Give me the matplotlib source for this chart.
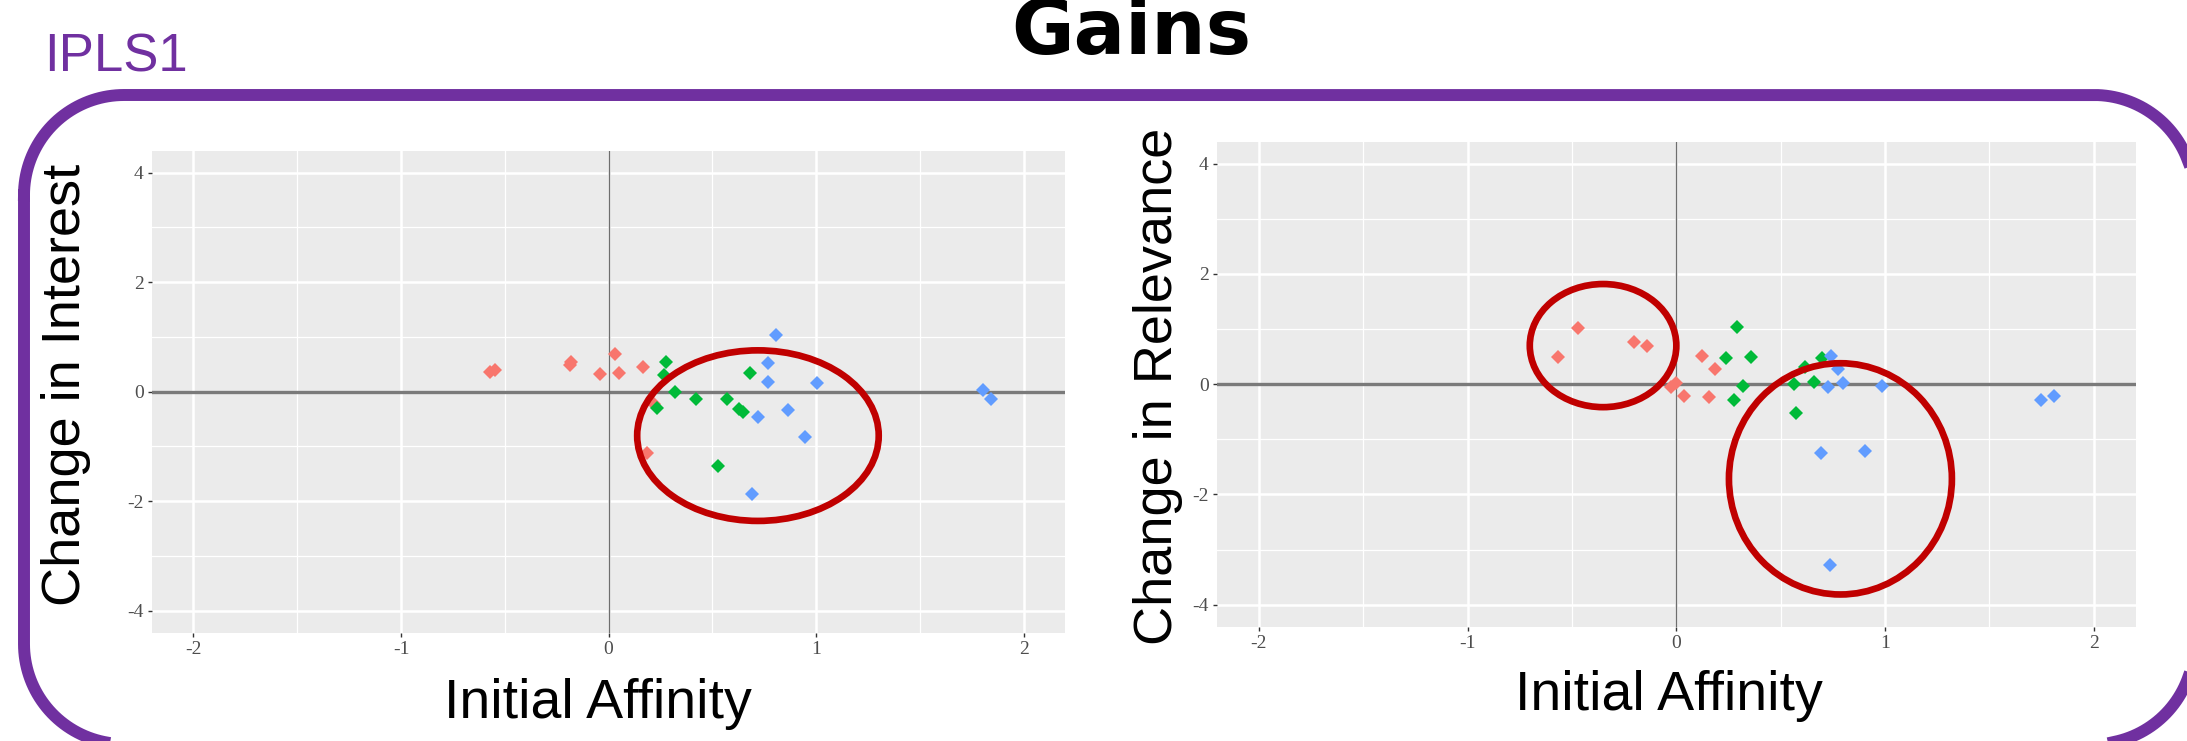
import matplotlib
matplotlib.use("Agg")
import numpy as np
import matplotlib.pyplot as plt
from matplotlib.patches import Ellipse

# ---------------- data ----------------
# Left panel: Initial Affinity vs Change in Interest
int_red_x = [-0.573, -0.549, -0.186, -0.180, -0.041, 0.030, 0.050, 0.165, 0.218, 0.183]
int_red_y = [0.365, 0.395, 0.487, 0.535, 0.316, 0.687, 0.347, 0.450, -0.231, -1.125]
int_green_x = [0.275, 0.269, 0.322, 0.422, 0.233, 0.570, 0.629, 0.647, 0.682, 0.528]
int_green_y = [0.535, 0.304, 0.000, -0.128, -0.292, -0.128, -0.316, -0.365, 0.335, -1.350]
int_blue_x = [0.806, 0.769, 0.769, 1.003, 0.867, 0.718, 0.947, 0.691, 1.804, 1.845]
int_blue_y = [1.040, 0.530, 0.177, 0.158, -0.334, -0.456, -0.821, -1.867, 0.030, -0.140]

# Right panel: Initial Affinity vs Change in Relevance
rel_red_x = [-0.566, -0.472, -0.204, -0.139, 0.000, -0.026, 0.036, 0.123, 0.184, 0.155]
rel_red_y = [0.489, 1.026, 0.760, 0.694, 0.030, -0.054, -0.217, 0.519, 0.278, -0.241]
rel_green_x = [0.291, 0.236, 0.359, 0.320, 0.275, 0.566, 0.573, 0.618, 0.660, 0.696]
rel_green_y = [1.045, 0.477, 0.489, -0.036, -0.290, 0.006, -0.525, 0.320, 0.036, 0.477]
rel_blue_x = [0.741, 0.773, 0.728, 0.799, 0.984, 0.693, 0.903, 0.738, 1.748, 1.809]
rel_blue_y = [0.513, 0.272, -0.054, 0.024, -0.030, -1.250, -1.208, -3.273, -0.284, -0.217]

# highlight ellipses (center x, center y, width, height) in data units
int_ellipses = [(0.720, -0.803, 1.164, 3.114)]
rel_ellipses = [(-0.351, 0.700, 0.702, 2.234), (0.786, -1.718, 1.068, 4.196)]

x_ticks = [-2, -1, 0, 1, 2]
y_ticks = [-4, -2, 0, 2, 4]
x_minor = [-1.5, -0.5, 0.5, 1.5]
y_minor = [-3, -1, 1, 3]

title = "Gains"
corner_label = "IPLS1"
x_label = "Initial Affinity"
y_label_left = "Change in Interest"
y_label_right = "Change in Relevance"

group_colors = ["#F8766D", "#00BA38", "#619CFF"]

# ---------------- figure ----------------
W, H = 2187, 741
fig = plt.figure(figsize=(W / 100, H / 100), dpi=100)

bg = fig.add_axes([0, 0, 1, 1], zorder=-5)
bg.set_xlim(0, W)
bg.set_ylim(H, 0)
bg.axis("off")

# rounded purple frame (pixel coordinates, y downwards)
L, R, T, B, rad = 24, 2194, 95, 744, 100
th = np.linspace(0, np.pi / 2, 40)
pts = []
pts += list(zip(L + rad - rad * np.cos(th), T + rad - rad * np.sin(th)))
pts += list(zip(R - rad + rad * np.sin(th), T + rad - rad * np.cos(th)))
pts += list(zip(R - rad + rad * np.cos(th), B - rad + rad * np.sin(th)))
pts += list(zip(L + rad - rad * np.sin(th), B - rad + rad * np.cos(th)))
pts.append(pts[0])
fx, fy = zip(*pts)
bg.plot(fx, fy, color="#7030A0", lw=8.6, solid_joinstyle="round", clip_on=False)

bg.text(1131, 54, title, ha="center", va="baseline",
        fontsize=55, fontweight="bold", family="DejaVu Sans", color="black")
bg.text(44, 72, corner_label, ha="left", va="baseline",
        fontsize=38, family="Liberation Sans", color="#7030A0")

bg.text(80, 385, y_label_left, rotation=90, rotation_mode="anchor",
        ha="center", va="baseline", fontsize=39, family="Liberation Sans")
bg.text(1172, 386, y_label_right, rotation=90, rotation_mode="anchor",
        ha="center", va="baseline", fontsize=39, family="Liberation Sans")
bg.text(598, 718, x_label, ha="center", va="baseline",
        fontsize=40, family="Liberation Sans")
bg.text(1669, 710, x_label, ha="center", va="baseline",
        fontsize=40, family="Liberation Sans")


def panel(rect, groups, ellipses):
    ax = fig.add_axes(rect)
    ax.set_facecolor("#EBEBEB")
    for s in ax.spines.values():
        s.set_visible(False)
    ax.set_xlim(-2.2, 2.2)
    ax.set_ylim(-4.4, 4.4)
    ax.set_xticks(x_ticks)
    ax.set_yticks(y_ticks)
    ax.set_xticklabels([str(t) for t in x_ticks])
    ax.set_yticklabels([str(t) for t in y_ticks])
    ax.set_xticks(x_minor, minor=True)
    ax.set_yticks(y_minor, minor=True)
    ax.tick_params(which="major", length=3, width=1, color="#333333",
                   labelcolor="#4D4D4D", labelsize=14, pad=3)
    ax.tick_params(which="minor", length=0)
    for lab in ax.get_xticklabels() + ax.get_yticklabels():
        lab.set_family("Liberation Serif")
    ax.grid(which="major", color="white", lw=1.8, zorder=0)
    ax.grid(which="minor", color="white", lw=0.9, zorder=0)
    ax.set_axisbelow(True)
    ax.axhline(0, color="#7A7A7A", lw=2.4, zorder=1)
    ax.axvline(0, color="#6E6E6E", lw=1.0, zorder=1)
    for (gx, gy), c in zip(groups, group_colors):
        ax.plot(gx, gy, ls="none", marker="D", ms=7, mew=0,
                color=c, zorder=3)
    for cx, cy, w, h in ellipses:
        ax.add_patch(Ellipse((cx, cy), w, h, fc="none", ec="#C00000",
                             lw=4.8, zorder=4))
    return ax


panel([0.0695, 0.1462, 0.4175, 0.6505],
      [(int_red_x, int_red_y), (int_green_x, int_green_y), (int_blue_x, int_blue_y)],
      int_ellipses)
panel([0.5565, 0.1543, 0.4200, 0.6545],
      [(rel_red_x, rel_red_y), (rel_green_x, rel_green_y), (rel_blue_x, rel_blue_y)],
      rel_ellipses)

fig.savefig("out.png", dpi=100)
